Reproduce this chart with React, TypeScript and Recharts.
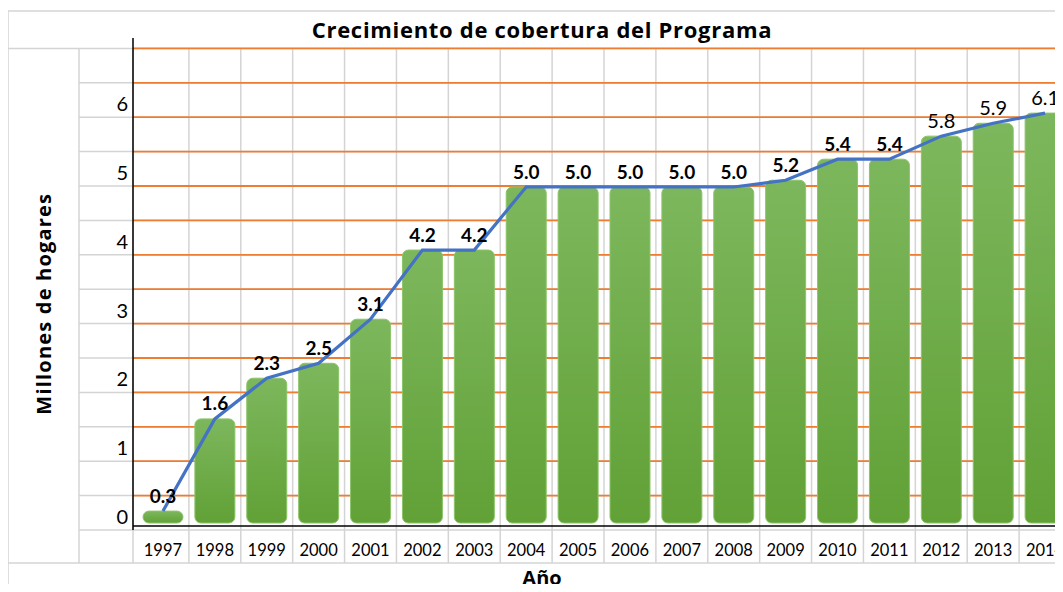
import React from 'react';
import {
  ComposedChart,
  Bar,
  Line,
  XAxis,
  YAxis,
  CartesianGrid,
  ReferenceLine,
  LabelList,
} from 'recharts';

const YEARS = [
  '1997', '1998', '1999', '2000', '2001', '2002', '2003', '2004', '2005',
  '2006', '2007', '2008', '2009', '2010', '2011', '2012', '2013', '2014',
];
const HOUSEHOLDS = [
  0.22, 1.58, 2.18, 2.4, 3.05, 4.07, 4.07, 5.0, 5.0,
  5.0, 5.0, 5.0, 5.1, 5.41, 5.41, 5.75, 5.94, 6.09,
];
const VALUE_LABELS = [
  '0.3', '1.6', '2.3', '2.5', '3.1', '4.2', '4.2', '5.0', '5.0',
  '5.0', '5.0', '5.0', '5.2', '5.4', '5.4', '5.8', '5.9', '6.1',
];
const Y_TICKS = [0, 1, 2, 3, 4, 5, 6];
const ROW_TICKS = [0.5, 1, 1.5, 2, 2.5, 3, 3.5, 4, 4.5, 5, 5.5, 6, 6.5, 7];

const data = YEARS.map((year, i) => ({
  year,
  value: HOUSEHOLDS[i],
  label: VALUE_LABELS[i],
}));

// labels drawn in plain weight (the rest are bold)
const PLAIN_LABEL_YEARS = ['2012', '2013', '2014'];

const FONT = 'Lato, "Open Sans", sans-serif';
const HEAD_FONT = '"Open Sans", Lato, sans-serif';
const PAGE_W = 1063;
const PAGE_H = 592;
const CHART_W = 1072;
const PLOT_LEFT = 133;
const PLOT_TOP = 38;
const PLOT_BOTTOM = 530;
const Y_AXIS_W = 54;
const X_AXIS_H = 33;
const X_PAD = 4;
const BAND = (CHART_W - 1 - PLOT_LEFT - X_PAD) / YEARS.length;
const ROW_H = 34.4;
const SHEET_TOP = PLOT_BOTTOM - ROW_H * 14;
const BAR_ZERO_Y = 526;
const BAR_PX = 67.8;

const GRAY = '#d4d4d4';
const ORANGE = '#ED7D31';
const BLUE = '#4472C4';

const SheetTick = (props: any) => {
  const { y, payload } = props;
  return (
    <text
      x={PLOT_LEFT - 5}
      y={y - 14}
      textAnchor="end"
      dominantBaseline="central"
      fontSize={20}
      fill="#000"
    >
      {payload.value}
    </text>
  );
};

const YearTick = (props: any) => {
  const { x, payload } = props;
  return (
    <text
      x={x}
      y={PLOT_BOTTOM + 20}
      textAnchor="middle"
      dominantBaseline="central"
      fontSize={16.5}
      fill="#000"
    >
      {payload.value}
    </text>
  );
};

const RoundedBar = (props: any) => {
  const { x, y, width, height } = props;
  const h = Math.max(height - 3, 0);
  const r = Math.min(6, h / 2, width / 2);
  return (
    <rect
      x={x}
      y={y}
      width={width}
      height={h}
      rx={r}
      ry={r}
      fill="url(#barGreen)"
      stroke="#8cc46a"
      strokeWidth={1}
    />
  );
};

const ValueLabel = (props: any) => {
  const vb = props.viewBox ?? props;
  const x = vb.x ?? props.x;
  const y = vb.y ?? props.y;
  const w = vb.width ?? props.width;
  const year = YEARS[props.index];
  const plain = PLAIN_LABEL_YEARS.includes(year);
  return (
    <text
      x={x + w / 2}
      y={y - 16}
      textAnchor="middle"
      dominantBaseline="central"
      fontSize={plain ? 20 : 19}
      fontWeight={plain ? 400 : 700}
      fill="#000"
    >
      {props.value}
    </text>
  );
};

function SheetBackground() {
  const rowLines: number[] = [];
  for (let k = 1; k < 14; k++) rowLines.push(PLOT_BOTTOM - ROW_H * k);
  const colLines: number[] = [79, PLOT_LEFT];
  for (let k = 1; k < YEARS.length; k++) colLines.push(PLOT_LEFT + X_PAD + BAND * k);
  const bottom = PLOT_BOTTOM + X_AXIS_H;

  return (
    <svg
      width={PAGE_W}
      height={PAGE_H}
      style={{ position: 'absolute', left: 0, top: 0 }}
    >
      <g stroke={GRAY} strokeWidth={1.5}>
        <line x1={8} x2={8} y1={11} y2={PAGE_H} />
        {colLines.map((x) => (
          <line key={x} x1={x} x2={x} y1={SHEET_TOP} y2={bottom} />
        ))}
        <line x1={8} x2={PAGE_W} y1={11} y2={11} />
        <line x1={8} x2={PAGE_W} y1={SHEET_TOP} y2={SHEET_TOP} />
        {rowLines.map((y) => (
          <line key={y} x1={79} x2={PAGE_W} y1={y} y2={y} />
        ))}
        <line x1={79} x2={PAGE_W} y1={PLOT_BOTTOM} y2={PLOT_BOTTOM} />
        <line x1={8} x2={PAGE_W} y1={bottom} y2={bottom} />
      </g>
      <g fontFamily={HEAD_FONT} fontWeight={700} fill="#000">
        <text x={542} y={38} textAnchor="middle" fontSize={22} letterSpacing={0.7}>
          Crecimiento de cobertura del Programa
        </text>
        <text
          transform={`translate(51, ${(SHEET_TOP + bottom) / 2 - 2}) rotate(-90)`}
          textAnchor="middle"
          fontSize={20}
          letterSpacing={1.2}
        >
          Millones de hogares
        </text>
        <text x={542} y={585} textAnchor="middle" fontSize={20}>
          Año
        </text>
      </g>
    </svg>
  );
}

export default function App() {
  return (
    <div
      style={{
        position: 'relative',
        margin: -8,
        width: PAGE_W,
        height: PAGE_H,
        overflow: 'hidden',
        background: '#fff',
        fontFamily: FONT,
      }}
    >
      <SheetBackground />
      <div style={{ position: 'absolute', left: 0, top: 0 }}>
        <ComposedChart
          width={CHART_W}
          height={PAGE_H}
          data={data}
          margin={{
            top: PLOT_TOP,
            right: 1,
            bottom: PAGE_H - PLOT_BOTTOM - X_AXIS_H,
            left: PLOT_LEFT - Y_AXIS_W,
          }}
        >
          <defs>
            <linearGradient id="barGreen" x1="0" y1="0" x2="0" y2="1">
              <stop offset="0%" stopColor="#7db75d" />
              <stop offset="100%" stopColor="#61a136" />
            </linearGradient>
          </defs>
          <XAxis
            dataKey="year"
            type="category"
            height={X_AXIS_H}
            padding={{ left: X_PAD, right: 0 }}
            axisLine={false}
            tickLine={false}
            tick={<YearTick />}
            interval={0}
          />
          <YAxis
            yAxisId="sheet"
            type="number"
            domain={[0, (PLOT_BOTTOM - PLOT_TOP) / (2 * ROW_H)]}
            ticks={Y_TICKS}
            width={Y_AXIS_W}
            axisLine={{ stroke: '#000', strokeWidth: 1.5 }}
            tickLine={false}
            tick={<SheetTick />}
            allowDataOverflow
          />
          <YAxis
            yAxisId="rows"
            type="number"
            orientation="right"
            width={0}
            domain={[0, (PLOT_BOTTOM - PLOT_TOP) / (2 * ROW_H)]}
            ticks={ROW_TICKS}
            hide
            allowDataOverflow
          />
          <YAxis
            yAxisId="bars"
            type="number"
            orientation="right"
            width={0}
            domain={[
              -(PLOT_BOTTOM - BAR_ZERO_Y) / BAR_PX,
              (BAR_ZERO_Y - PLOT_TOP) / BAR_PX,
            ]}
            hide
            allowDataOverflow
          />
          <CartesianGrid
            yAxisId="rows"
            vertical={false}
            syncWithTicks
            stroke={ORANGE}
            strokeWidth={1.8}
          />
          <Bar
            yAxisId="bars"
            dataKey="value"
            barSize={40}
            shape={<RoundedBar />}
            isAnimationActive={false}
          >
            <LabelList dataKey="label" content={<ValueLabel />} />
          </Bar>
          <Line
            yAxisId="bars"
            dataKey="value"
            stroke={BLUE}
            strokeWidth={3.2}
            dot={false}
            activeDot={false}
            isAnimationActive={false}
          />
          <ReferenceLine yAxisId="bars" y={0} stroke="#000" strokeWidth={1.5} />
        </ComposedChart>
      </div>
    </div>
  );
}
